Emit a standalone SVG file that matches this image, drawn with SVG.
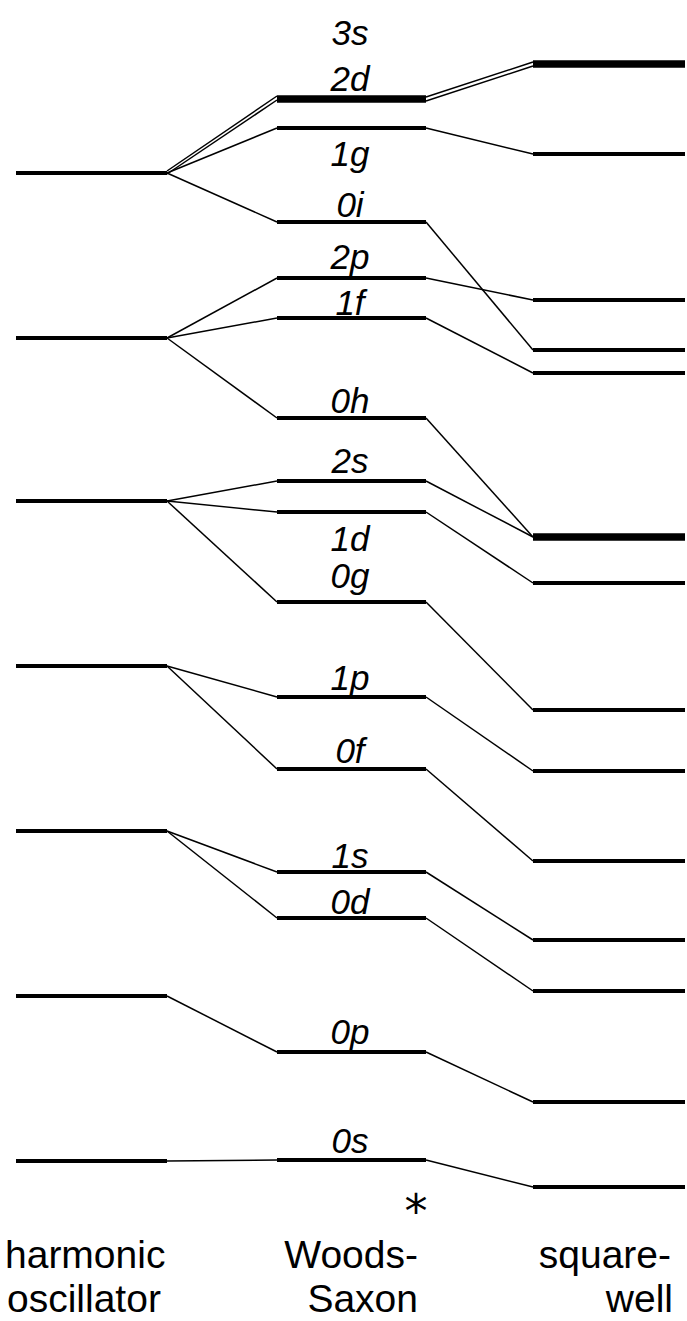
<svg xmlns="http://www.w3.org/2000/svg" width="687" height="1321" viewBox="0 0 687 1321">
<style>
.lv{stroke:#000;stroke-width:4;fill:none}
.lvt{stroke:#000;stroke-width:7.5;fill:none}
.cn{stroke:#000;stroke-width:1.5;fill:none}
.lab{font-family:"Liberation Sans",Arial,sans-serif;font-style:italic;font-size:35px;fill:#000;text-anchor:middle}
.ax{font-family:"Liberation Sans",Arial,sans-serif;font-size:39px;fill:#000}
</style>
<rect width="687" height="1321" fill="#fff"/>
<g id="connectors">
<line class="cn" x1="167" y1="171" x2="277" y2="96"/>
<line class="cn" x1="167" y1="174" x2="277" y2="100"/>
<line class="cn" x1="167" y1="173" x2="277" y2="128"/>
<line class="cn" x1="167" y1="173" x2="277" y2="222"/>
<line class="cn" x1="167" y1="338" x2="277" y2="278"/>
<line class="cn" x1="167" y1="338" x2="277" y2="318"/>
<line class="cn" x1="167" y1="338" x2="277" y2="418"/>
<line class="cn" x1="167" y1="501" x2="277" y2="481"/>
<line class="cn" x1="167" y1="501" x2="277" y2="512"/>
<line class="cn" x1="167" y1="501" x2="277" y2="602"/>
<line class="cn" x1="167" y1="666" x2="277" y2="697"/>
<line class="cn" x1="167" y1="666" x2="277" y2="769"/>
<line class="cn" x1="167" y1="831" x2="277" y2="872"/>
<line class="cn" x1="167" y1="831" x2="277" y2="918"/>
<line class="cn" x1="167" y1="996" x2="277" y2="1052"/>
<line class="cn" x1="167" y1="1161" x2="277" y2="1160"/>
<line class="cn" x1="426" y1="97" x2="533" y2="62"/>
<line class="cn" x1="426" y1="101" x2="533" y2="66"/>
<line class="cn" x1="426" y1="128" x2="533" y2="154"/>
<line class="cn" x1="426" y1="222" x2="533" y2="350"/>
<line class="cn" x1="426" y1="278" x2="533" y2="300"/>
<line class="cn" x1="426" y1="318" x2="533" y2="373"/>
<line class="cn" x1="426" y1="418" x2="533" y2="537"/>
<line class="cn" x1="426" y1="481" x2="533" y2="537"/>
<line class="cn" x1="426" y1="512" x2="533" y2="583"/>
<line class="cn" x1="426" y1="602" x2="533" y2="710"/>
<line class="cn" x1="426" y1="697" x2="533" y2="771"/>
<line class="cn" x1="426" y1="769" x2="533" y2="861"/>
<line class="cn" x1="426" y1="872" x2="533" y2="940"/>
<line class="cn" x1="426" y1="918" x2="533" y2="991"/>
<line class="cn" x1="426" y1="1052" x2="533" y2="1102"/>
<line class="cn" x1="426" y1="1160" x2="533" y2="1187"/>
</g>
<g id="ho">
<g id="ho-6"><line class="lv" x1="16" y1="173" x2="167" y2="173"/></g>
<g id="ho-5"><line class="lv" x1="16" y1="338" x2="167" y2="338"/></g>
<g id="ho-4"><line class="lv" x1="16" y1="501" x2="167" y2="501"/></g>
<g id="ho-3"><line class="lv" x1="16" y1="666" x2="167" y2="666"/></g>
<g id="ho-2"><line class="lv" x1="16" y1="831" x2="167" y2="831"/></g>
<g id="ho-1"><line class="lv" x1="16" y1="996" x2="167" y2="996"/></g>
<g id="ho-0"><line class="lv" x1="16" y1="1161" x2="167" y2="1161"/></g>
</g>
<g id="ws">
<g id="ws-3s2d"><line class="lvt" x1="277" y1="99" x2="426" y2="99"/><text class="lab" x="350" y="45">3s</text><text class="lab" x="350" y="91">2d</text></g>
<g id="ws-1g"><line class="lv" x1="277" y1="128" x2="426" y2="128"/><text class="lab" x="350" y="166">1g</text></g>
<g id="ws-0i"><line class="lv" x1="277" y1="222" x2="426" y2="222"/><text class="lab" x="350" y="217">0i</text></g>
<g id="ws-2p"><line class="lv" x1="277" y1="278" x2="426" y2="278"/><text class="lab" x="350" y="269">2p</text></g>
<g id="ws-1f"><line class="lv" x1="277" y1="318" x2="426" y2="318"/><text class="lab" x="350" y="315">1f</text></g>
<g id="ws-0h"><line class="lv" x1="277" y1="418" x2="426" y2="418"/><text class="lab" x="350" y="413">0h</text></g>
<g id="ws-2s"><line class="lv" x1="277" y1="481" x2="426" y2="481"/><text class="lab" x="350" y="473">2s</text></g>
<g id="ws-1d"><line class="lv" x1="277" y1="512" x2="426" y2="512"/><text class="lab" x="350" y="551">1d</text></g>
<g id="ws-0g"><line class="lv" x1="277" y1="602" x2="426" y2="602"/><text class="lab" x="350" y="588">0g</text></g>
<g id="ws-1p"><line class="lv" x1="277" y1="697" x2="426" y2="697"/><text class="lab" x="350" y="690">1p</text></g>
<g id="ws-0f"><line class="lv" x1="277" y1="769" x2="426" y2="769"/><text class="lab" x="350" y="763">0f</text></g>
<g id="ws-1s"><line class="lv" x1="277" y1="872" x2="426" y2="872"/><text class="lab" x="350" y="868">1s</text></g>
<g id="ws-0d"><line class="lv" x1="277" y1="918" x2="426" y2="918"/><text class="lab" x="350" y="914">0d</text></g>
<g id="ws-0p"><line class="lv" x1="277" y1="1052" x2="426" y2="1052"/><text class="lab" x="350" y="1044">0p</text></g>
<g id="ws-0s"><line class="lv" x1="277" y1="1160" x2="426" y2="1160"/><text class="lab" x="350" y="1153">0s</text></g>
</g>
<g id="sw">
<g id="sw-3s2d"><line class="lvt" x1="533" y1="64" x2="685" y2="64"/></g>
<g id="sw-1g"><line class="lv" x1="533" y1="154" x2="685" y2="154"/></g>
<g id="sw-2p"><line class="lv" x1="533" y1="300" x2="685" y2="300"/></g>
<g id="sw-0i"><line class="lv" x1="533" y1="350" x2="685" y2="350"/></g>
<g id="sw-1f"><line class="lv" x1="533" y1="373" x2="685" y2="373"/></g>
<g id="sw-2s0h"><line class="lvt" x1="533" y1="537" x2="685" y2="537"/></g>
<g id="sw-1d"><line class="lv" x1="533" y1="583" x2="685" y2="583"/></g>
<g id="sw-0g"><line class="lv" x1="533" y1="710" x2="685" y2="710"/></g>
<g id="sw-1p"><line class="lv" x1="533" y1="771" x2="685" y2="771"/></g>
<g id="sw-0f"><line class="lv" x1="533" y1="861" x2="685" y2="861"/></g>
<g id="sw-1s"><line class="lv" x1="533" y1="940" x2="685" y2="940"/></g>
<g id="sw-0d"><line class="lv" x1="533" y1="991" x2="685" y2="991"/></g>
<g id="sw-0p"><line class="lv" x1="533" y1="1102" x2="685" y2="1102"/></g>
<g id="sw-0s"><line class="lv" x1="533" y1="1187" x2="685" y2="1187"/></g>
</g>
<g id="asterisk"><text x="416" y="1227" font-family="DejaVu Sans, sans-serif" font-size="46" text-anchor="middle" fill="#000">*</text></g>
<g id="axis-labels">
<text class="ax" x="5" y="1268">harmonic</text>
<text class="ax" x="7" y="1312">oscillator</text>
<text class="ax" x="418" y="1268" text-anchor="end">Woods-</text>
<text class="ax" x="418" y="1312" text-anchor="end">Saxon</text>
<text class="ax" x="671" y="1268" text-anchor="end">square-</text>
<text class="ax" x="673" y="1312" text-anchor="end">well</text>
</g>
</svg>
